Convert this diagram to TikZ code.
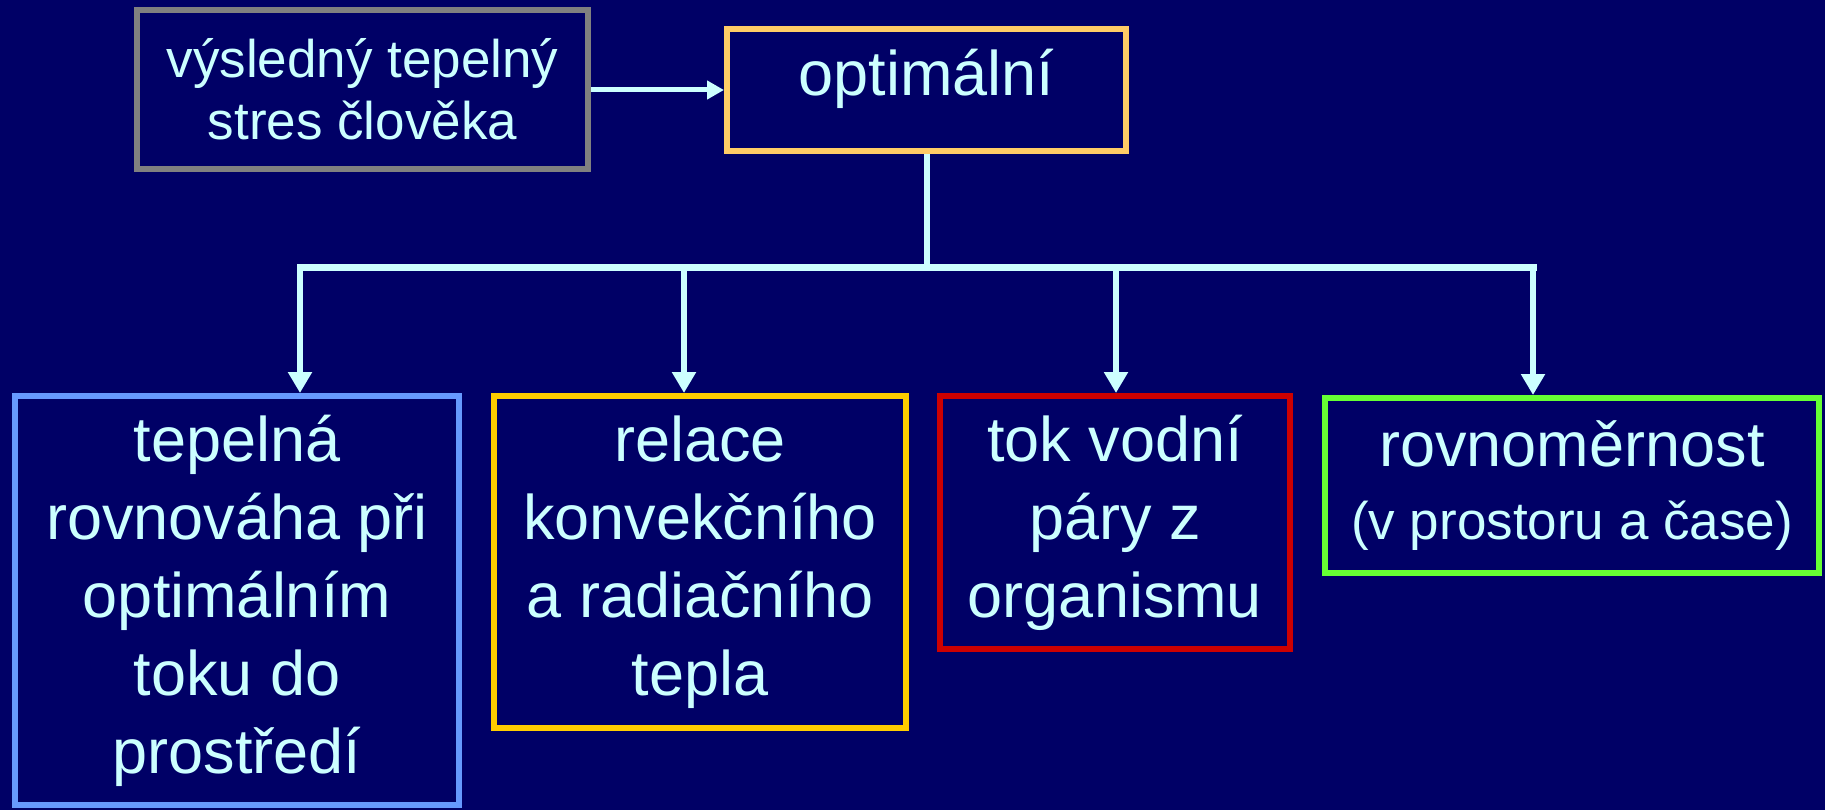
\documentclass[tikz,border=0pt]{standalone}
\usepackage{fontspec}
\setmainfont{Liberation Sans}
\usetikzlibrary{arrows.meta}
\definecolor{bg}{HTML}{000066}
\definecolor{fg}{HTML}{CCFFFF}
\definecolor{cgray}{HTML}{808080}
\definecolor{copt}{HTML}{FFCC66}
\definecolor{cblue}{HTML}{6699FF}
\definecolor{cyel}{HTML}{FFCC00}
\definecolor{cred}{HTML}{CC0000}
\definecolor{cgreen}{HTML}{66FF33}
\begin{document}
\begin{tikzpicture}[x=1pt,y=-1pt,
  box/.style={draw, line width=6pt, fill=bg, text=fg, align=center, inner sep=0pt,
    font=\fontsize{63}{78}\selectfont},
  smalltext/.style={font=\fontsize{53}{62}\selectfont},
  conn/.style={draw=fg, line width=6pt},
  arr/.style={conn, -{Triangle[width=23pt,length=21pt]}},
  arrsmall/.style={conn, line width=5pt, -{Triangle[width=18pt,length=17pt]}}]
\fill[bg] (0,0) rectangle (1825,810);
\useasboundingbox (0,0) rectangle (1825,810);

\node[box, draw=cgray, minimum width=451pt, minimum height=159pt, smalltext] (stres) at (362.5,89.5)
  {výsledný tepelný\\stres člověka};
\node[box, draw=copt, minimum width=399pt, minimum height=122pt] (opt) at (926.5,90) {};
\node[text=fg, font=\fontsize{63}{76}\selectfont, inner sep=0pt] (optT) at (926.5,79) {optimální};

\node[box, draw=cblue, minimum width=444pt, minimum height=409pt] (b1) at (237,600.5)
  {tepelná\\rovnováha při\\optimálním\\toku do\\prostředí};
\node[box, draw=cyel, minimum width=412pt, minimum height=332pt] (b2) at (700,562)
  {relace\\konvekčního\\a radiačního\\tepla};
\node[box, draw=cred, minimum width=350pt, minimum height=253pt] (b3) at (1115,522.5)
  {tok vodní\\páry z\\organismu};
\node[box, draw=cgreen, minimum width=494pt, minimum height=175pt] (b4) at (1572,485.5)
  {rovnoměrnost\\[-5pt]{\fontsize{53}{62}\selectfont (v prostoru a čase)}};

\coordinate (bl) at (300,268);
\coordinate (br) at (1533,268);
\coordinate (d2) at (684,268);
\coordinate (d3) at (1116,268);

\draw[arrsmall] (stres.east |- opt.west) -- (opt.west);
\draw[conn] (opt.south) -- (opt.south |- bl);
\draw[conn, line width=7pt, line cap=rect] (bl) -- (br);
\draw[arr] (bl) -- (bl |- b1.north);
\draw[arr] (d2) -- (d2 |- b2.north);
\draw[arr] (d3) -- (d3 |- b3.north);
\draw[arr] (br) -- (br |- b4.north);
\end{tikzpicture}
\end{document}
